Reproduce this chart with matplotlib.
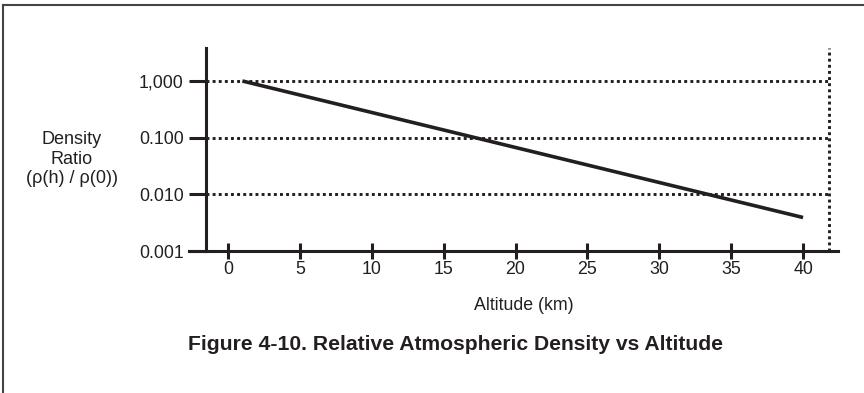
import matplotlib
matplotlib.use("Agg")
import matplotlib.pyplot as plt
from matplotlib.lines import Line2D

plt.rcParams['font.family'] = ['Liberation Sans', 'DejaVu Sans']

# Data
altitude_km = [1.0, 40.0]
density_ratio = [1.0, 0.0039]
y_ticks = [1.0, 0.1, 0.01, 0.001]
y_tick_labels = ['1,000', '0.100', '0.010', '0.001']
x_ticks = [0, 5, 10, 15, 20, 25, 30, 35, 40]
x_tick_labels = [str(v) for v in x_ticks]
grid_levels = [1.0, 0.1, 0.01]

INK = '#231f20'
W, H = 864, 393
fig = plt.figure(figsize=(W / 100, H / 100), dpi=100)

# outer frame (top and left edges)
fig.add_artist(Line2D([3 / W, 1.0], [1 - 5 / H, 1 - 5 / H], transform=fig.transFigure,
                      color='#444444', lw=1.5))
fig.add_artist(Line2D([3 / W, 3 / W], [1 - 5 / H, 0.0], transform=fig.transFigure,
                      color='#444444', lw=1.5))

left, right = 189 / W, 838 / W
bottom, top = (H - 251) / H, (H - 48) / H
ax = fig.add_axes([left, bottom, right - left, top - bottom])

ax.set_yscale('log')
ax.set_xlim(-2.713, 42.43)
ax.set_ylim(0.001, 3.82)

spine_x = -1.53
right_x = 41.81

for s in ['top', 'right']:
    ax.spines[s].set_visible(False)
ax.spines['left'].set_position(('data', spine_x))
ax.spines['left'].set_linewidth(2.2)
ax.spines['left'].set_color(INK)
ax.spines['bottom'].set_linewidth(2.2)
ax.spines['bottom'].set_color(INK)

# dotted grid lines and right boundary
ax.hlines(grid_levels, spine_x, right_x, colors=INK, linestyles=(0, (1, 1.1)), lw=2.1, zorder=2)
ax.vlines([right_x], 0.001, 3.82, colors=INK, linestyles=(0, (1, 1.1)), lw=2.1, zorder=2)

# data line
ax.plot(altitude_km, density_ratio, color=INK, lw=2.6, solid_capstyle='butt', zorder=3)

ax.set_yticks(y_ticks)
ax.set_yticklabels(y_tick_labels)
ax.yaxis.set_minor_locator(matplotlib.ticker.NullLocator())
ax.tick_params(axis='y', direction='out', length=12, width=2.2, color=INK,
               labelsize=12.8, labelcolor=INK, pad=4)

ax.set_xticks(x_ticks)
ax.set_xticklabels(x_tick_labels)
ax.tick_params(axis='x', direction='inout', length=12, width=2.2, color=INK,
               labelsize=12.8, labelcolor=INK, pad=1.5)

fig.text(72 / W, 1 - 159 / H, 'Density\nRatio\n(ρ(h) / ρ(0))', ha='center', va='center',
         fontsize=13, color=INK, linespacing=1.2)
fig.text(524 / W, 1 - 306 / H, 'Altitude (km)', ha='center', va='center',
         fontsize=12.8, color=INK)
fig.text(455 / W, 1 - 345 / H, 'Figure 4-10. Relative Atmospheric Density vs Altitude',
         ha='center', va='center', fontsize=15.2, fontweight='bold', color=INK)

fig.savefig('out.png', dpi=100)
